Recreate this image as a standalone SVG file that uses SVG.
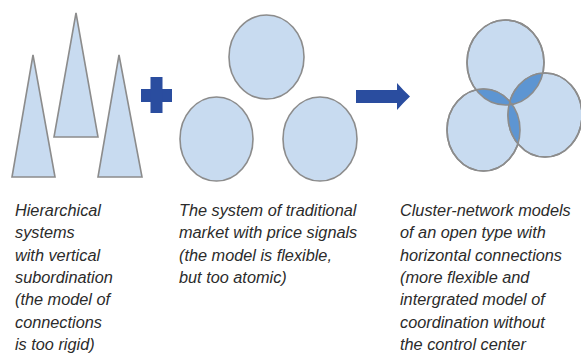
<svg xmlns="http://www.w3.org/2000/svg" width="581" height="354" viewBox="0 0 581 354">
<style>
.shape{fill:#c8dbf0;stroke:#8c8c8c;stroke-width:1.6}
.edge{fill:none;stroke:#8c8c8c;stroke-width:1.6}
.lens{fill:#5d95d2}
.mark{fill:#2a4d9f}
text{font-family:"Liberation Sans",Arial,sans-serif;font-style:italic;font-size:16.3px;fill:#2b2b2b}
</style>
<defs>
<clipPath id="cTop"><ellipse cx="505.5" cy="62.5" rx="38.5" ry="42.5"/></clipPath>
<clipPath id="cBL"><ellipse cx="483.5" cy="130" rx="36.5" ry="41"/></clipPath>
<clipPath id="cBR"><ellipse cx="545" cy="115" rx="37" ry="42"/></clipPath>
</defs>
<rect width="581" height="354" fill="#ffffff"/>
<g id="hierarchy">
<polygon class="shape" points="76,13 98,137 54,137"/>
<polygon class="shape" points="33,55 55,177 12,177"/>
<polygon class="shape" points="119,55 142,177 98,177"/>
</g>
<g id="plus">
<rect class="mark" x="141" y="89" width="31" height="13"/>
<rect class="mark" x="150.5" y="77" width="12" height="36"/>
</g>
<g id="market">
<ellipse class="shape" cx="266.5" cy="57" rx="37.5" ry="42"/>
<ellipse class="shape" cx="216.5" cy="139" rx="36.5" ry="42"/>
<ellipse class="shape" cx="320" cy="139" rx="37" ry="42"/>
</g>
<g id="connectors">
<path class="mark" d="M356,90 H397 V83 Q403,90 410,96.5 Q403,103 397,110 V103 H356 Z"/>
</g>
<g id="cluster">
<ellipse class="shape" cx="505.5" cy="62.5" rx="38.5" ry="42.5"/>
<ellipse class="shape" cx="483.5" cy="130" rx="36.5" ry="41"/>
<ellipse class="shape" cx="545" cy="115" rx="37" ry="42"/>
<g clip-path="url(#cTop)"><ellipse class="lens" cx="483.5" cy="130" rx="36.5" ry="41"/><ellipse class="lens" cx="545" cy="115" rx="37" ry="42"/></g>
<g clip-path="url(#cBL)"><ellipse class="lens" cx="545" cy="115" rx="37" ry="42"/></g>
<ellipse class="edge" cx="505.5" cy="62.5" rx="38.5" ry="42.5"/>
<ellipse class="edge" cx="483.5" cy="130" rx="36.5" ry="41"/>
<ellipse class="edge" cx="545" cy="115" rx="37" ry="42"/>
</g>
<g id="label-hierarchy">
<text x="15" y="216">Hierarchical</text>
<text x="15" y="238.3">systems</text>
<text x="15" y="260.6">with vertical</text>
<text x="15" y="282.9">subordination</text>
<text x="15" y="305.2">(the model of</text>
<text x="15" y="327.5">connections</text>
<text x="15" y="349.8">is too rigid)</text>
</g>
<g id="label-market">
<text x="179" y="216">The system of traditional</text>
<text x="179" y="238.3">market with price signals</text>
<text x="179" y="260.6">(the model is flexible,</text>
<text x="179" y="282.9">but too atomic)</text>
</g>
<g id="label-cluster">
<text x="400" y="216">Cluster-network models</text>
<text x="400" y="238.3">of an open type with</text>
<text x="400" y="260.6">horizontal connections</text>
<text x="400" y="282.9">(more flexible and</text>
<text x="400" y="305.2">intergrated model of</text>
<text x="400" y="327.5">coordination without</text>
<text x="400" y="349.8">the control center</text>
</g>
</svg>
